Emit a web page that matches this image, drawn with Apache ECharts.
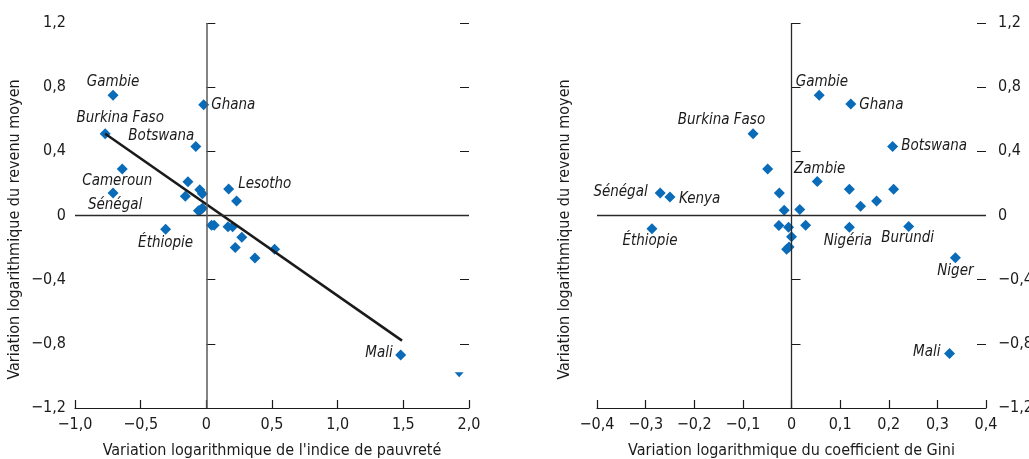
<!DOCTYPE html>
<html>
<head>
<meta charset="utf-8">
<script src="https://cdn.jsdelivr.net/npm/echarts@6/dist/echarts.min.js"></script>
<style>
html,body{margin:0;padding:0;background:#fff;}
#c{width:1029px;height:459px;}
</style>
</head>
<body>
<div id="c"></div>
<script>
// ---- Data: left panel (poverty index vs mean income)
const leftNames = ['Gambie','Ghana','Burkina Faso','Botswana','Cameroun','Sénégal','Lesotho','Éthiopie','Mali',
  '','','','','','','','','','','','','','','',''];
const leftX = [-0.71,-0.02,-0.77,-0.08,-0.64,-0.71,0.17,-0.31,1.48,
  -0.14,-0.16,-0.05,-0.03,-0.06,-0.03,-0.045,0.23,0.04,0.06,0.165,0.20,0.27,0.22,0.37,0.52];
const leftY = [0.75,0.69,0.51,0.43,0.29,0.14,0.165,-0.085,-0.87,
  0.21,0.12,0.16,0.135,0.03,0.045,0.035,0.09,-0.06,-0.06,-0.07,-0.07,-0.135,-0.20,-0.265,-0.21];
const clippedX = [1.925];
const clippedY = [-0.98];
const fitX = [-0.77, 1.49];
const fitY = [0.51, -0.78];

// ---- Data: right panel (Gini coefficient vs mean income)
const rightNames = ['Burkina Faso','Sénégal','Kenya','Éthiopie','Gambie','Ghana','Botswana','Zambie','Nigéria','Burundi','Niger','Mali',
  '','','','','','','','','','','','','',''];
const rightX = [-0.079,-0.27,-0.25,-0.287,0.057,0.122,0.208,0.053,0.119,0.241,0.337,0.325,
  -0.049,-0.025,-0.015,0.017,-0.026,-0.006,0.029,0.0,-0.005,-0.01,0.119,0.142,0.175,0.21];
const rightY = [0.51,0.14,0.115,-0.083,0.75,0.695,0.43,0.212,-0.073,-0.069,-0.264,-0.86,
  0.29,0.14,0.033,0.037,-0.062,-0.073,-0.06,-0.133,-0.197,-0.21,0.164,0.058,0.09,0.164];

// tick settings
const yTicks = {min:-1.2, max:1.2, interval:0.4};
const leftXTicks = {min:-1.0, max:2.0, interval:0.5};
const rightXTicks = {min:-0.4, max:0.4, interval:0.1};

// ---- label placement (style config)
const leftLabelPos = {
  'Gambie': {position:'inside', offset:[0,-13]},
  'Ghana': {position:'right', distance:2, offset:[0,0]},
  'Burkina Faso': {position:'inside', offset:[15,-16]},
  'Botswana': {position:'left', distance:0, offset:[4,-10]},
  'Cameroun': {position:'inside', offset:[-5,12]},
  'Sénégal': {position:'inside', offset:[2,12]},
  'Lesotho': {position:'right', distance:4, offset:[0,-4.5]},
  'Éthiopie': {position:'inside', offset:[0,14]},
  'Mali': {position:'left', distance:2.5, offset:[0,-1.5]}
};
const rightLabelPos = {
  'Burkina Faso': {position:'inside', offset:[-31.6,-13.6]},
  'Sénégal': {position:'left', distance:7, offset:[0,-1]},
  'Kenya': {position:'right', distance:3.5, offset:[0,1.6]},
  'Éthiopie': {position:'inside', offset:[-2,12.4]},
  'Gambie': {position:'inside', offset:[2.7,-13]},
  'Ghana': {position:'right', distance:3, offset:[0,0.7]},
  'Botswana': {position:'right', distance:3, offset:[0,0]},
  'Zambie': {position:'inside', offset:[2.4,-12.7]},
  'Nigéria': {position:'inside', offset:[-1.5,14]},
  'Burundi': {position:'inside', offset:[-1,11.3]},
  'Niger': {position:'inside', offset:[0,13.4]},
  'Mali': {position:'left', distance:3.5, offset:[0,-1.7]}
};

const FONT = "'Liberation Sans Narrow','DejaVu Sans Condensed','Roboto Condensed',Arial,sans-serif";
const TXT = '#1c1a1a';
const BLUE = '#0a6bb8';

function fmt(v){
  if (Math.abs(v) < 1e-9) return '0';
  return v.toFixed(1).replace('.', ',').replace('-', '\u2212');
}

function buildPoints(xs, ys, names, posMap){
  return xs.map((x,i)=>{
    const item = {value:[x, ys[i]], name:names[i]};
    const p = posMap[names[i]];
    if (names[i] && p){
      item.label = Object.assign({
        show:true, formatter:names[i], color:TXT, opacity:1, fontFamily:FONT, fontStyle:'italic', fontSize:15
      }, p);
    }
    return item;
  });
}

const tickStyle = {show:true, inside:true, length:9, lineStyle:{color:TXT, width:1}};
const labelFont = {fontFamily:FONT, fontSize:16, color:TXT};

function xAxisCfg(gridIndex, t, name){
  return {
    type:'value', gridIndex, min:t.min, max:t.max, interval:t.interval,
    axisLine:{show:true, onZero:false, lineStyle:{color:TXT, width:1.2}},
    axisTick:{show:true, inside:true, length:8, lineStyle:{color:TXT, width:1.2}},
    axisLabel:Object.assign({formatter:fmt, margin:9}, labelFont),
    splitLine:{show:false},
    name, nameLocation:'middle', nameGap:35,
    nameTextStyle:{fontFamily:FONT, fontSize:16, color:TXT}
  };
}
function yAxisCfg(gridIndex, position, showLabels, name, nameGap, margin){
  const cfg = {
    type:'value', gridIndex, position, min:yTicks.min, max:yTicks.max, interval:yTicks.interval,
    axisLine:{show:false}, axisTick:tickStyle,
    axisLabel:Object.assign({show:showLabels, formatter:fmt, margin:margin||9}, labelFont),
    splitLine:{show:false}
  };
  if (name){
    cfg.name = name; cfg.nameLocation = 'middle'; cfg.nameGap = nameGap;
    cfg.nameTextStyle = {fontFamily:FONT, fontSize:16, color:TXT, padding:[0,28,0,0]};
  }
  return cfg;
}

const chart = echarts.init(document.getElementById('c'), null, {renderer:'canvas'});
chart.setOption({
  animation:false,
  backgroundColor:'#fff',
  grid:[
    {left:75, top:23, width:394, height:385, containLabel:false, outerBoundsMode:'none'},
    {left:597, top:23, width:389, height:385, containLabel:false, outerBoundsMode:'none'}
  ],
  xAxis:[
    xAxisCfg(0, leftXTicks, "Variation logarithmique de l'indice de pauvreté"),
    xAxisCfg(1, rightXTicks, 'Variation logarithmique du coefficient de Gini')
  ],
  yAxis:[
    yAxisCfg(0, 'left', true, 'Variation logarithmique du revenu moyen', 52),
    yAxisCfg(0, 'right', false),
    yAxisCfg(1, 'left', false, 'Variation logarithmique du revenu moyen', 24),
    yAxisCfg(1, 'right', true, null, 0, 12)
  ],
  series:[
    {
      type:'scatter', xAxisIndex:0, yAxisIndex:0, symbol:'diamond', symbolSize:11,
      itemStyle:{color:BLUE, opacity:1}, z:3,
      data:buildPoints(leftX, leftY, leftNames, leftLabelPos),
      markLine:{
        silent:true, symbol:'none', label:{show:false}, animation:false,
        data:[
          {yAxis:0, lineStyle:{color:'#2a2a2a', width:1.3, type:'solid', opacity:1}},
          {xAxis:0, lineStyle:{color:'#5a5a5a', width:1.5, type:'solid', opacity:1}}
        ]
      }
    },
    {
      type:'scatter', xAxisIndex:0, yAxisIndex:0,
      symbol:'path://M0,0 L2,0 L1,1 Z', symbolSize:[9,5], symbolOffset:[0,2],
      itemStyle:{color:BLUE, opacity:1}, z:3,
      data:clippedX.map((x,i)=>[x, clippedY[i]])
    },
    {
      type:'line', xAxisIndex:0, yAxisIndex:0, symbol:'none', z:4,
      lineStyle:{color:'#1a1a1a', width:2.5},
      data:fitX.map((x,i)=>[x, fitY[i]])
    },
    {
      type:'scatter', xAxisIndex:1, yAxisIndex:2, symbol:'diamond', symbolSize:11,
      itemStyle:{color:BLUE, opacity:1}, z:3,
      data:buildPoints(rightX, rightY, rightNames, rightLabelPos),
      markLine:{
        silent:true, symbol:'none', label:{show:false}, animation:false,
        data:[
          {yAxis:0, lineStyle:{color:'#2a2a2a', width:1.3, type:'solid', opacity:1}},
          {xAxis:0, lineStyle:{color:'#2a2a2a', width:1.3, type:'solid', opacity:1}}
        ]
      }
    }
  ]
});
</script>
</body>
</html>
